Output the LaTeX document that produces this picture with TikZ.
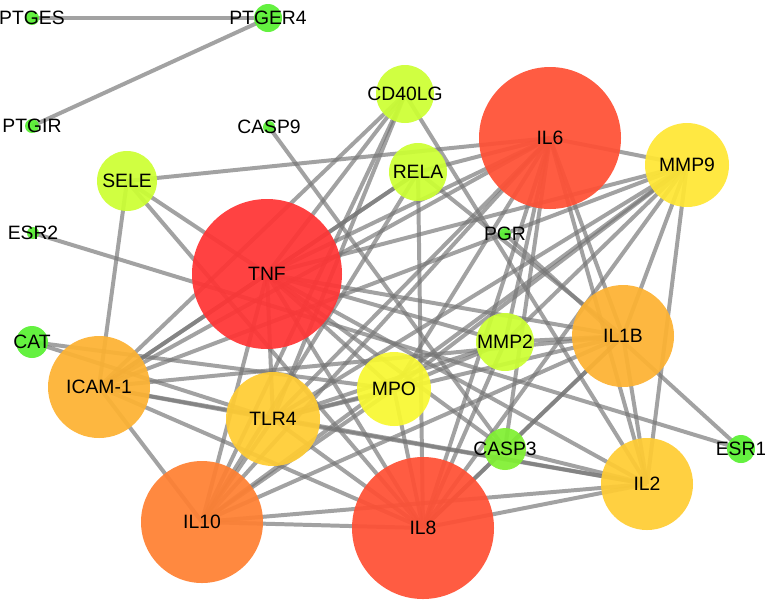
\documentclass[tikz,border=0pt]{standalone}
\usepackage{fontspec}
\setmainfont{Liberation Sans}
\pgfdeclarelayer{bg}
\pgfsetlayers{bg,main}
\definecolor{ctnf}{HTML}{FF3434}
\definecolor{cil6}{HTML}{FF5034}
\definecolor{cil10}{HTML}{FF8032}
\definecolor{cicam}{HTML}{FDB232}
\definecolor{ctlr}{HTML}{FFCC33}
\definecolor{cmmp9}{HTML}{FFE634}
\definecolor{cmpo}{HTML}{F8F832}
\definecolor{cyg}{HTML}{CCFF33}
\definecolor{ccasp}{HTML}{80F032}
\definecolor{csmall}{HTML}{58F032}
\definecolor{cedge}{HTML}{767676}
\tikzset{
  gn/.style={circle, inner sep=0pt, draw=none, fill opacity=0.93},
  gl/.style={inner sep=0pt, font=\fontsize{16.5}{19}\selectfont, text=black},
  ge/.style={draw=cedge, line width=3.4pt, opacity=0.68}
}
\newcommand{\gnode}[6]{%
  \node[gn, minimum size=#4*0.06cm, fill=#5] (#1) at (#2,#3) {};
  \node[gl] (#1-l) at (#1) {#6};}
\begin{document}
\begin{tikzpicture}[x=0.03cm, y=-0.03cm]
\useasboundingbox (0,0) rectangle (765,605);
\gnode{PTGES}{32}{18}{7}{csmall}{PTGES}
\gnode{PTGER4}{268}{18}{14}{csmall}{PTGER4}
\gnode{PTGIR}{32}{126}{7}{csmall}{PTGIR}
\gnode{CASP9}{269}{127}{6}{csmall}{CASP9}
\gnode{ESR2}{33}{233}{6}{csmall}{ESR2}
\gnode{PGR}{505}{234}{6}{csmall}{PGR}
\gnode{CAT}{32}{342}{16}{csmall}{CAT}
\gnode{ESR1}{741}{449}{14}{csmall}{ESR1}
\gnode{CASP3}{505}{449}{21}{ccasp}{CASP3}
\gnode{SELE}{127}{181}{30}{cyg}{SELE}
\gnode{CD40LG}{405}{94}{29}{cyg}{CD40LG}
\gnode{RELA}{418}{172}{29}{cyg}{RELA}
\gnode{MMP2}{505}{342}{29}{cyg}{MMP2}
\gnode{MPO}{394}{389}{37}{cmpo}{MPO}
\gnode{MMP9}{687}{165}{42}{cmmp9}{MMP9}
\gnode{TLR4}{273}{419}{47}{ctlr}{TLR4}
\gnode{IL2}{647}{484}{46}{ctlr}{IL2}
\gnode{ICAM}{99}{387}{51}{cicam}{ICAM-1}
\gnode{IL1B}{623}{336}{51}{cicam}{IL1B}
\gnode{IL10}{202}{522}{61}{cil10}{IL10}
\gnode{IL6}{550}{138}{71}{cil6}{IL6}
\gnode{IL8}{423}{528}{71}{cil6}{IL8}
\gnode{TNF}{267}{274}{75}{ctnf}{TNF}
\begin{pgfonlayer}{bg}
\foreach \a/\b in {PTGES/PTGER4, PTGER4/PTGIR, CASP9/CASP3, ESR2/ESR1, PGR/ESR1,
  CAT/MPO, CAT/TLR4,
  SELE/IL6, SELE/TNF, SELE/IL8, SELE/ICAM,
  CD40LG/TNF, CD40LG/ICAM, CD40LG/TLR4, CD40LG/IL10, CD40LG/IL2,
  RELA/TNF, RELA/ICAM, RELA/IL8, RELA/IL1B, RELA/IL6, RELA/IL10,
  TNF/ICAM, TNF/TLR4, TNF/IL10, TNF/IL8, TNF/MPO, TNF/CASP3, TNF/IL2, TNF/IL1B, TNF/MMP2, TNF/MMP9, TNF/IL6,
  IL6/MMP9, IL6/IL1B, IL6/IL8, IL6/IL10, IL6/TLR4, IL6/ICAM, IL6/MPO, IL6/MMP2, IL6/CASP3, IL6/IL2,
  IL8/IL10, IL8/TLR4, IL8/ICAM, IL8/MPO, IL8/CASP3, IL8/IL2, IL8/IL1B, IL8/MMP2, IL8/MMP9,
  IL10/ICAM, IL10/TLR4, IL10/IL2, IL10/IL1B, IL10/MPO, IL10/MMP9,
  ICAM/TLR4, ICAM/IL1B, ICAM/MMP9, ICAM/IL2,
  TLR4/MMP9, TLR4/IL1B, TLR4/MPO, TLR4/IL2,
  IL1B/IL2, IL1B/MMP9, IL1B/MMP2, IL1B/CASP3,
  MMP9/MPO, MMP9/MMP2, MMP9/IL2,
  MMP2/MPO, MMP2/TLR4, CASP3/IL2}
  \draw[ge] (\a.center) -- (\b.center);
\end{pgfonlayer}
\end{tikzpicture}
\end{document}
